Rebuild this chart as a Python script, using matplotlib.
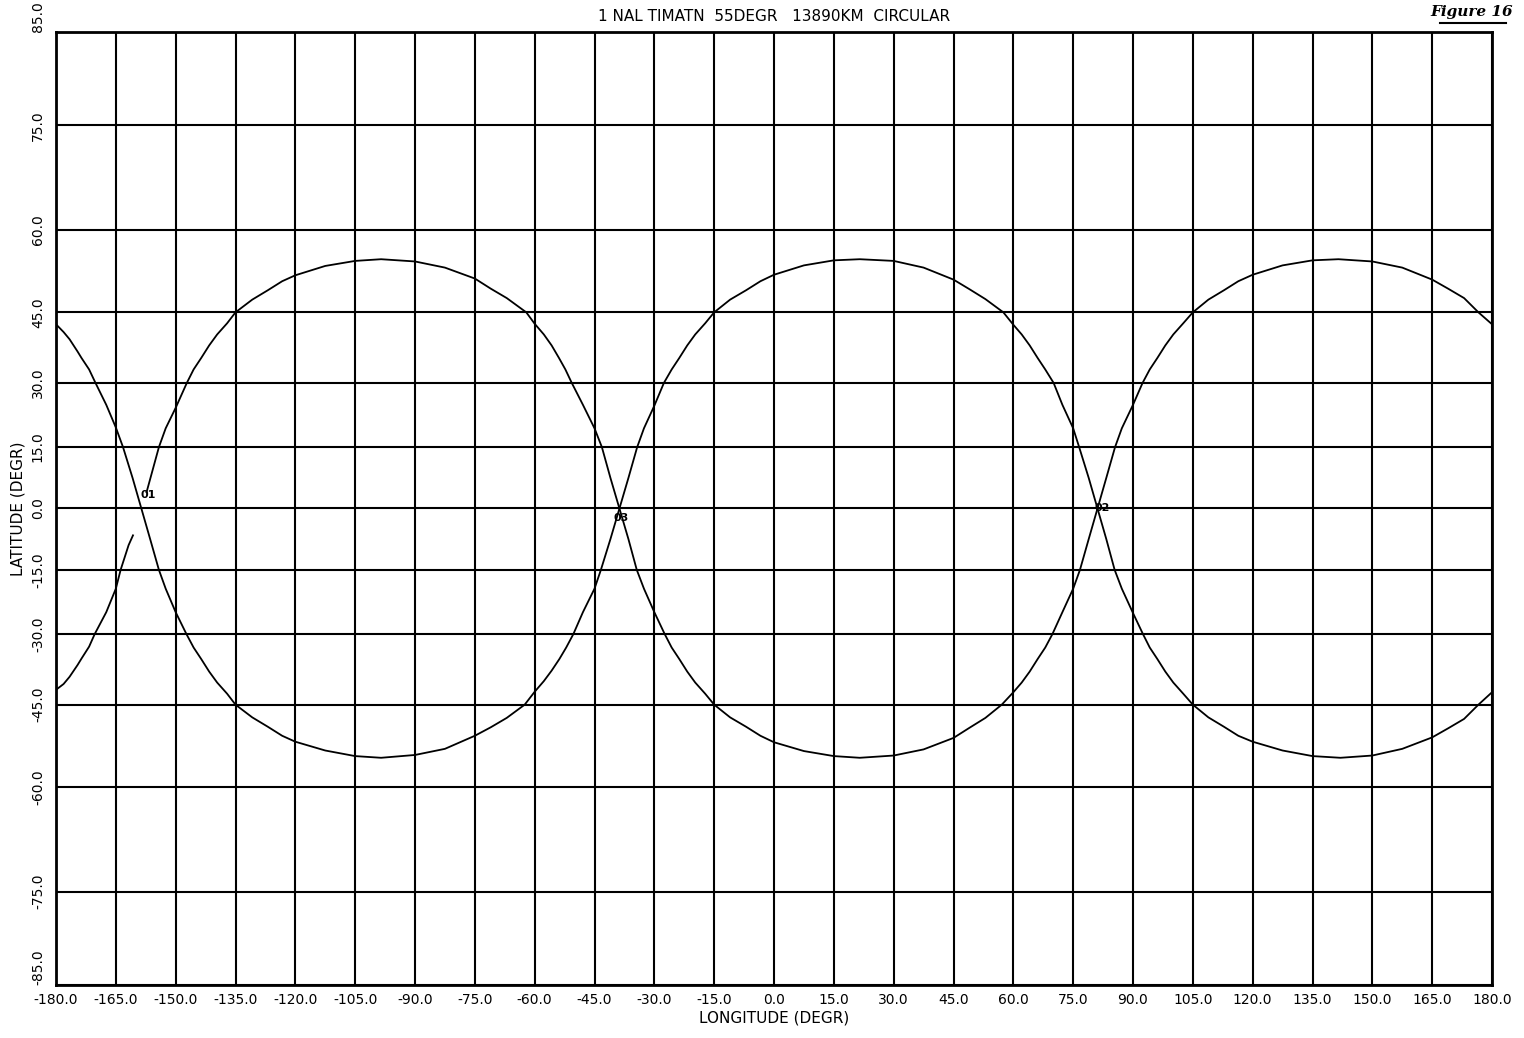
import numpy as np
import matplotlib
matplotlib.use("Agg")
import matplotlib.pyplot as plt
from matplotlib.lines import Line2D

# ground track as (lon, lat) in degrees,
# three pieces split where the track wraps at +/-180
track_a = [
    (-157.3, 4.0), (-154.2, 15.0), (-152.5, 19.5), (-150.0, 24.3), (-147.2, 30.0),
    (-145.5, 33.0), (-143.6, 35.5), (-141.6, 38.2), (-139.6, 40.5), (-137.1, 42.8),
    (-135.0, 45.0), (-130.8, 47.5), (-126.9, 49.3), (-123.3, 51.0), (-120.0, 52.1),
    (-112.5, 53.8), (-105.0, 54.7), (-98.5, 55.0), (-90.0, 54.6), (-82.5, 53.5),
    (-75.0, 51.5), (-71.0, 49.6), (-67.0, 47.8), (-62.1, 45.0), (-60.0, 42.7),
    (-57.7, 40.5), (-55.75, 38.2), (-53.9, 35.5), (-52.3, 33.0), (-50.7, 30.0),
    (-47.9, 25.0), (-45.0, 19.5), (-43.15, 15.0), (-41.0, 7.5), (-38.75, 0.0),
    (-36.5, -7.5), (-34.4, -15.0), (-32.6, -19.5), (-30.0, -25.0), (-27.4, -30.0),
    (-25.65, -33.0), (-23.75, -35.5), (-21.75, -38.2), (-19.75, -40.5), (-17.25, -42.8),
    (-15.0, -45.0), (-11.0, -47.5), (-7.0, -49.3), (-3.4, -51.0), (0.0, -52.2),
    (7.5, -53.8), (15.0, -54.7), (21.5, -55.0), (30.0, -54.6), (37.5, -53.5),
    (45.0, -51.4), (49.0, -49.5), (53.0, -47.6), (57.1, -45.0), (60.0, -42.5),
    (62.1, -40.5), (64.1, -38.2), (66.1, -35.5), (68.0, -33.0), (69.8, -30.0),
    (72.3, -25.0), (75.0, -19.5), (76.7, -15.0), (78.9, -7.5), (81.1, 0.0),
    (83.3, 7.5), (85.5, 15.0), (87.2, 19.5), (90.0, 25.0), (92.4, 30.0),
    (94.2, 33.0), (96.1, 35.5), (98.1, 38.2), (100.1, 40.5), (102.6, 42.8),
    (105.0, 45.0), (108.9, 47.5), (112.8, 49.3), (116.4, 51.0), (120.0, 52.2),
    (127.5, 53.9), (135.0, 54.8), (141.5, 55.0), (150.0, 54.6), (157.5, 53.5),
    (165.0, 51.3), (169.0, 49.6), (173.0, 47.8), (176.6, 45.0), (180.0, 42.6),
]

track_b = [
    (-180.0, 42.6), (-178.1, 41.0), (-176.6, 39.5), (-174.6, 36.9), (-173.6, 35.5),
    (-171.7, 33.0), (-170.1, 30.0), (-167.4, 25.0), (-165.0, 19.7), (-163.2, 15.0),
    (-160.8, 7.5), (-158.6, 0.0), (-156.4, -7.5), (-154.2, -15.0), (-152.5, -19.5),
    (-150.0, -25.0), (-147.3, -30.0), (-145.5, -33.0), (-143.6, -35.5), (-141.6, -38.2),
    (-139.6, -40.5), (-137.1, -42.8), (-135.0, -45.0), (-130.8, -47.5), (-126.9, -49.3),
    (-123.3, -51.0), (-120.0, -52.1), (-112.5, -53.7), (-105.0, -54.7), (-98.5, -55.0),
    (-90.0, -54.5), (-82.5, -53.4), (-75.0, -51.0), (-71.0, -49.4), (-67.0, -47.6),
    (-62.5, -45.0), (-60.0, -42.4), (-57.7, -40.2), (-55.75, -38.0), (-53.8, -35.5),
    (-52.1, -33.0), (-50.3, -30.0), (-47.9, -25.0), (-45.0, -19.5), (-43.4, -15.0),
    (-41.0, -7.5), (-38.75, 0.0), (-36.5, 7.5), (-34.3, 15.0), (-32.6, 19.5),
    (-30.0, 24.8), (-27.6, 30.0), (-25.65, 33.0), (-23.75, 35.5), (-21.75, 38.2),
    (-19.75, 40.5), (-17.25, 42.8), (-15.0, 45.0), (-11.0, 47.5), (-7.0, 49.3),
    (-3.4, 51.0), (0.0, 52.2), (7.5, 53.9), (15.0, 54.8), (21.5, 55.0),
    (30.0, 54.7), (37.5, 53.5), (45.0, 51.3), (49.0, 49.5), (53.0, 47.6),
    (57.5, 45.0), (60.0, 42.5), (62.1, 40.5), (64.1, 38.2), (66.1, 35.5),
    (68.0, 33.0), (70.1, 30.0), (72.3, 25.0), (75.0, 19.5), (76.5, 15.0),
    (78.9, 7.5), (81.1, 0.0), (83.3, -7.5), (85.4, -15.0), (87.2, -19.5),
    (90.0, -25.2), (92.5, -30.0), (94.2, -33.0), (96.1, -35.5), (98.1, -38.2),
    (100.1, -40.5), (102.6, -42.8), (105.0, -45.0), (108.9, -47.5), (112.8, -49.3),
    (116.4, -51.0), (120.0, -52.1), (127.5, -53.7), (135.0, -54.7), (142.0, -55.0),
    (150.0, -54.6), (157.5, -53.4), (165.0, -51.3), (169.0, -49.6), (173.0, -47.8),
    (176.6, -45.0), (180.0, -42.5),
]

track_c = [
    (-180.0, -42.0), (-178.1, -40.8), (-176.6, -39.3), (-174.6, -36.8), (-173.6, -35.4),
    (-171.7, -32.8), (-170.3, -30.0), (-167.4, -25.0), (-165.0, -19.5), (-163.8, -15.0),
    (-161.8, -9.0), (-160.7, -6.6),
]

# node labels
node_names = ["01", "03", "02"]
node_lon = [-157.0, -38.4, 82.2]
node_lat = [3.3, -2.4, 0.0]

lon_ticks = np.arange(-180, 181, 15)
lat_ticks = [-85, -75, -60, -45, -30, -15, 0, 15, 30, 45, 60, 75, 85]

title = "1 NAL TIMATN  55DEGR   13890KM  CIRCULAR"


# Miller cylindrical latitude scale
def miller(lat):
    lat = np.clip(np.asarray(lat, dtype=float), -89.0, 89.0)
    return 1.25 * np.log(np.tan(np.pi / 4 + 0.4 * np.deg2rad(lat)))


def miller_inv(y):
    y = np.asarray(y, dtype=float)
    return np.rad2deg(2.5 * np.arctan(np.exp(0.8 * y)) - 0.625 * np.pi)


fig = plt.figure(figsize=(15.24, 10.38), dpi=100)
ax = fig.add_axes([56 / 1524, 53 / 1038, (1492 - 56) / 1524, (985 - 32) / 1038])
ax.set_yscale('function', functions=(miller, miller_inv))

for track in [track_a, track_b, track_c]:
    lo, la = zip(*track)
    ax.plot(lo, la, color='black', lw=1.3, zorder=3)

for name, lo, la in zip(node_names, node_lon, node_lat):
    ax.text(lo, la, name, fontsize=8, fontweight='bold', ha='center', va='center',
            zorder=4)

ax.set_xlim(-180, 180)
ax.set_ylim(-85, 85)
ax.set_xticks(lon_ticks)
ax.set_xticklabels([f"{v:.1f}" for v in lon_ticks], fontsize=10)
ax.set_yticks(lat_ticks)
ax.set_yticklabels([f"{v:.1f}" for v in lat_ticks], fontsize=10, rotation=90,
                   va='center')
ylabs = ax.get_yticklabels()
ylabs[0].set_va('bottom')
ylabs[-1].set_va('bottom')
ax.tick_params(length=0)
ax.tick_params(axis='x', pad=6)
ax.tick_params(axis='y', pad=8)
ax.grid(True, color='black', lw=1.5)
for s in ax.spines.values():
    s.set_linewidth(2)

ax.set_xlabel("LONGITUDE (DEGR)", fontsize=11, labelpad=2)
ax.set_ylabel("LATITUDE (DEGR)", fontsize=11, labelpad=4)
ax.set_title(title, fontsize=11, pad=8)

fig.text(1472 / 1524, 1 - 12 / 1038, "Figure 16", fontsize=11, style='italic',
         fontweight='bold', family='DejaVu Serif', ha='center', va='center')
fig.add_artist(Line2D([1440 / 1524, 1506 / 1524], [1 - 23 / 1038, 1 - 23 / 1038],
                      color='black', lw=1.5))

fig.savefig("out.png", dpi=100)
